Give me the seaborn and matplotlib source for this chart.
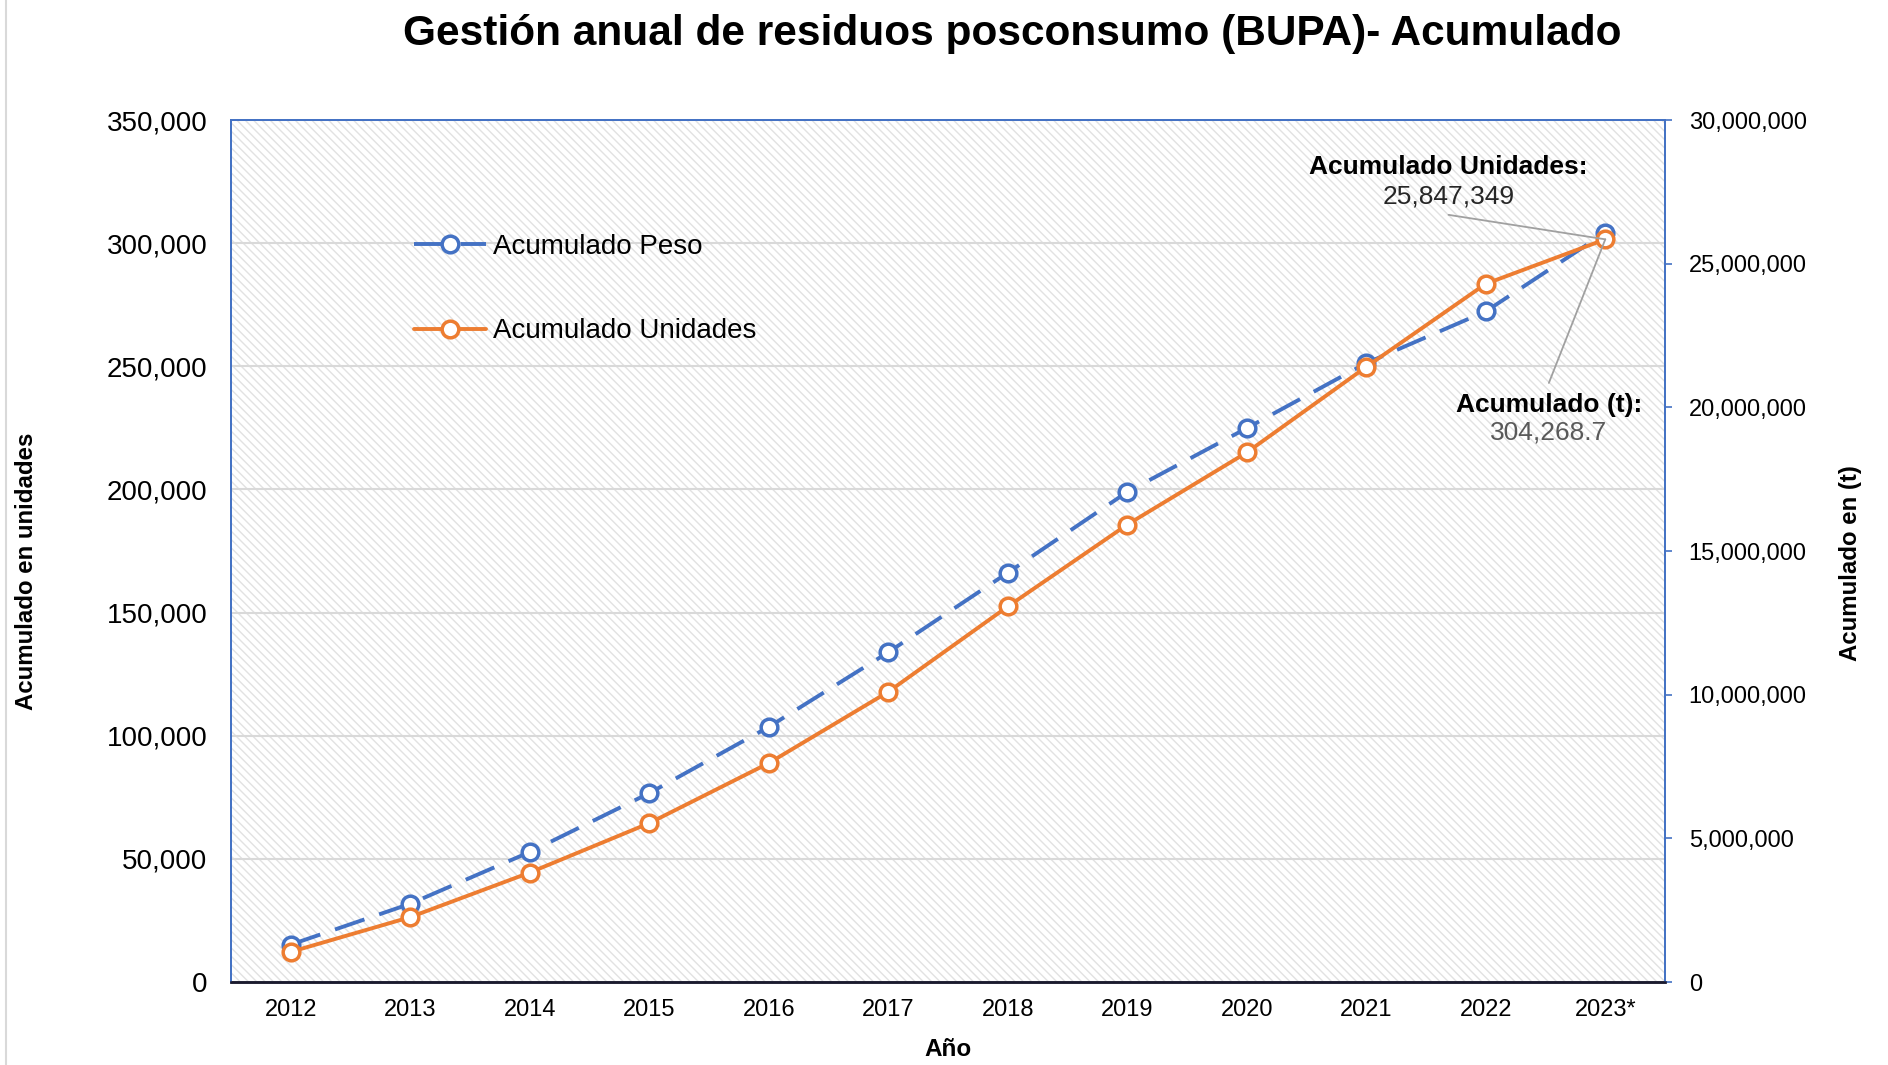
import matplotlib
matplotlib.use("Agg")
import matplotlib.pyplot as plt
import seaborn as sns
import pandas as pd
from matplotlib.patches import Rectangle
from matplotlib.lines import Line2D
from matplotlib.ticker import FuncFormatter

# Data
years = ['2012', '2013', '2014', '2015', '2016', '2017', '2018', '2019',
         '2020', '2021', '2022', '2023*']
peso = [15200, 31800, 52800, 76700, 103600, 133900, 166200, 199000,
        224900, 251300, 272300, 304268.7]
unidades = [1050000, 2260000, 3810000, 5530000, 7620000, 10100000,
            13070000, 15920000, 18430000, 21410000, 24300000, 25847349]

df = pd.DataFrame({'Año': years, 'Peso': peso, 'Unidades': unidades})

sns.set_style("white")
plt.rcParams['font.family'] = ['Liberation Sans', 'DejaVu Sans']
plt.rcParams['hatch.linewidth'] = 1.0
plt.rcParams['text.color'] = 'black'
plt.rcParams['xtick.color'] = 'black'
plt.rcParams['ytick.color'] = 'black'

blue = '#4472C4'
orange = '#ED7D31'

fig = plt.figure(figsize=(18.88, 10.65), dpi=100)
ax = fig.add_axes([0.1224, 0.0779, 0.7595, 0.8094])
ax2 = ax.twinx()

# Hatched plot background
ax.add_patch(Rectangle((0, 0), 1, 1, transform=ax.transAxes, facecolor='white',
                       edgecolor='#E2E2E2', lw=0, hatch='\\\\\\\\', zorder=0))
ax.set_axisbelow(True)
ax.grid(axis='y', color='#D9D9D9', lw=1.5)
ax.grid(axis='x', visible=False)

sns.lineplot(data=df, x='Año', y='Peso', ax=ax, color=blue, lw=2.8,
             marker='o', markersize=12, markerfacecolor='white',
             markeredgecolor=blue, markeredgewidth=2.5, label='Acumulado Peso',
             legend=False)
ax.lines[0].set_dashes((8, 4))
sns.lineplot(data=df, x='Año', y='Unidades', ax=ax2, color=orange, lw=2.8,
             marker='o', markersize=12, markerfacecolor='white',
             markeredgecolor=orange, markeredgewidth=2.5,
             label='Acumulado Unidades', legend=False)

ax.set_xlim(-0.5, len(years) - 0.5)
ax.set_ylim(0, 350000)
ax2.set_ylim(0, 30000000)
ax.set_yticks(range(0, 350001, 50000))
ax2.set_yticks(range(0, 30000001, 5000000))
fmt = FuncFormatter(lambda v, p: f'{int(v):,}')
ax.yaxis.set_major_formatter(fmt)
ax2.yaxis.set_major_formatter(fmt)

ax.tick_params(axis='y', labelsize=20, length=0, pad=17)
ax.tick_params(axis='x', labelsize=17, length=0, pad=12)
ax2.tick_params(axis='y', labelsize=17, length=5, width=1.2, color=blue,
                direction='out', pad=12)
ax.set_xlabel('')
ax.set_ylabel('')
ax2.set_ylabel('')

for a in (ax, ax2):
    for side in ('left', 'top', 'right'):
        a.spines[side].set_color(blue)
        a.spines[side].set_linewidth(1.3)
    a.spines['bottom'].set_color('#1a1a2e')
    a.spines['bottom'].set_linewidth(1.8)

# Legend
handles = [ax.lines[0], ax2.lines[0]]
ax2.legend(handles, ['Acumulado Peso', 'Acumulado Unidades'],
           loc='upper left', bbox_to_anchor=(0.118, 0.884), frameon=False,
           fontsize=20, handlelength=2.6, handletextpad=0.25,
           labelspacing=2.1, borderpad=0)

# Annotations for last values
gray = '#A0A0A0'
ax2.text(0.849, 0.945, 'Acumulado Unidades:', transform=ax.transAxes,
         ha='center', va='center', fontsize=19, fontweight='bold')
ax2.text(0.849, 0.911, f'{unidades[-1]:,}', transform=ax.transAxes,
         ha='center', va='center', fontsize=19, color='#262626')
ax2.annotate('', xy=(len(years) - 1, unidades[-1]), xycoords='data',
             xytext=(0.849, 0.890), textcoords=ax.transAxes,
             arrowprops=dict(arrowstyle='-', color=gray, lw=1.3,
                             shrinkA=0, shrinkB=0))
ax2.text(0.919, 0.669, 'Acumulado (t):', transform=ax.transAxes,
         ha='center', va='center', fontsize=19, fontweight='bold')
ax2.text(0.919, 0.637, f'{peso[-1]:,.1f}', transform=ax.transAxes,
         ha='center', va='center', fontsize=19, color='#595959')
ax2.annotate('', xy=(len(years) - 1, unidades[-1]), xycoords='data',
             xytext=(0.919, 0.695), textcoords=ax.transAxes,
             arrowprops=dict(arrowstyle='-', color=gray, lw=1.3,
                             shrinkA=0, shrinkB=0))

# Titles and axis labels
fig.text(0.536, 0.968, 'Gestión anual de residuos posconsumo (BUPA)- Acumulado',
         ha='center', va='center', fontsize=30.5, fontweight='bold')
fig.text(0.014, 0.464, 'Acumulado en unidades', rotation=90, ha='center',
         va='center', fontsize=17.3, fontweight='bold')
fig.text(0.980, 0.471, 'Acumulado en (t)', rotation=90, ha='center',
         va='center', fontsize=17.3, fontweight='bold')
fig.text(0.502, 0.015, 'Año', ha='center', va='center', fontsize=17.5,
         fontweight='bold')

# Thin chart border on the left edge
fig.add_artist(Line2D([0.003, 0.003], [0, 1], transform=fig.transFigure,
                      color='#D9D9D9', lw=1.5))

plt.savefig('out.png', dpi=100)
